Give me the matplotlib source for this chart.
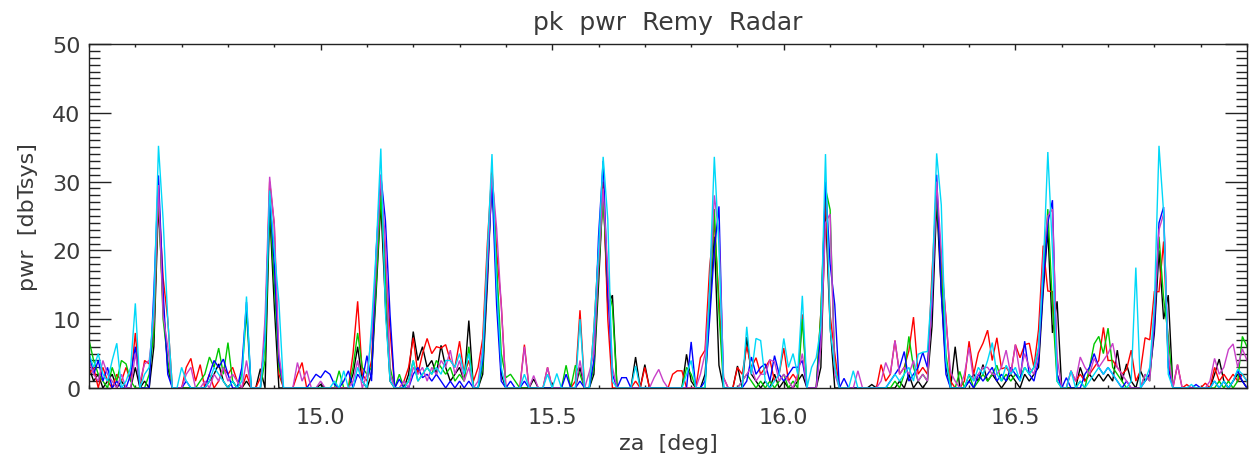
import numpy as np
import matplotlib
matplotlib.use("Agg")
import matplotlib.pyplot as plt
from matplotlib.ticker import MultipleLocator

# ---------------- data ----------------
ZA_START = 14.50      # deg, first sample
ZA_STEP = 0.01        # deg, sampling interval

pwr_black = [
    3, 1, 2, 0, 1, 2, 0, 1, 0, 0,
    3, 0, 1, 0, 6, 27, 12, 3, 0, 0,
    0, 0, 0, 0, 0, 0, 1, 2, 3.5, 1,
    0, 1, 0, 0, 1, 0, 0, 2.8, 0, 26,
    12, 0, 0, 0, 0, 0, 0, 0, 0, 0,
    0.5, 0, 0, 0, 0, 0, 0, 2, 6, 1,
    0, 2, 14, 27, 12, 1, 0, 0, 0, 2,
    8.2, 4, 6, 3, 4, 2, 6.2, 3, 1, 2,
    3, 1, 9.8, 0, 0, 2, 15, 31, 16, 2,
    0, 0, 0, 0, 0, 0, 1.3, 0, 0, 0,
    0, 0, 0, 0, 0, 0, 3, 0, 0, 2,
    15, 29, 12, 13.5, 0, 0, 0, 0, 4.5, 0,
    3.4, 0, 0, 0, 0, 0, 0, 0, 0, 4.9,
    1, 0, 0, 2, 11.3, 22, 3.3, 0, 0, 0,
    3.2, 0, 7.4, 2, 1, 0, 1, 0, 2, 0,
    1, 0, 0, 1, 2, 0, 0, 0, 3, 26,
    9, 0, 0, 0, 0, 0, 0, 0, 0, 0.5,
    0, 0, 0, 0, 0, 1, 0, 2, 0, 1,
    0, 1, 9, 27, 14, 3, 0, 6, 0, 0,
    1, 2, 1, 3.4, 1, 2, 1, 0, 1, 2,
    1, 0, 2, 1, 2, 3, 14, 23, 8, 12.6,
    0, 0, 0, 0, 3, 1, 2, 1, 2, 1,
    2, 1, 5.5, 1, 3.5, 1, 0, 2.5, 1, 2,
    8, 20, 10, 13.5, 0, 0, 0, 0, 0, 0,
    0, 0, 0, 2, 4.2, 1, 0, 1, 2, 1,
    0,
]

pwr_red = [
    2, 3, 0, 3, 1, 0, 2, 1, 3, 1,
    8, 0, 4, 3.5, 9, 28, 16, 10, 0, 0,
    0, 3, 4.3, 1, 3.4, 0, 2, 0, 1, 3,
    2, 3, 1, 0, 2, 0, 0, 1.5, 6, 30,
    23.8, 2, 0, 0, 0, 2, 3.7, 0, 0, 0,
    0, 0, 0, 0, 0, 0, 0, 5, 12.6, 2,
    1, 4, 17, 29, 18, 8.3, 0, 0, 1, 3,
    7.3, 2, 5, 7.2, 5, 6, 5.8, 6.3, 4, 3,
    6.8, 2, 4, 1, 3, 7.2, 21, 32, 20, 12.2,
    0, 0, 0, 0, 6.3, 0, 0, 0, 0, 3,
    0, 0, 0, 0, 0, 1, 11.3, 0, 0, 8.6,
    20, 30, 10, 0, 0, 0, 0, 0, 1, 0,
    3, 0, 0, 0, 0, 0, 2, 2.5, 2.5, 0,
    0, 0, 4.4, 5.5, 17.7, 24, 13, 1.5, 0, 0,
    3, 2, 6, 3, 4.4, 2, 3, 4.1, 1, 2,
    5.8, 1, 2, 1, 10.7, 0, 0, 0, 11, 28,
    10.6, 5, 0, 0, 0, 0, 0, 0, 0, 0,
    0, 3.4, 1, 2, 6.9, 2, 3, 5.4, 10.3, 2,
    3, 2, 16.8, 29, 18, 10.3, 1, 0, 0, 1,
    6.8, 2, 5.1, 6.5, 8.4, 4, 7.3, 2.8, 3, 2,
    6.3, 4.4, 6.3, 6.5, 3, 8.5, 20.7, 14.1, 14, 2,
    0, 0, 2.5, 1, 2, 1, 2, 3, 4, 8.8,
    4, 4, 3, 2, 2.7, 5.5, 1, 2.5, 7.3, 7,
    14, 14, 21.3, 4, 0, 3.4, 0, 0.5, 0, 0,
    0, 0.7, 0, 3, 1, 2, 1, 2, 1, 2,
    1,
]

pwr_green = [
    7, 4, 2, 1, 0, 3, 1, 4, 3.5, 1,
    0, 0, 0, 2, 8, 29, 10, 4, 0, 0,
    0, 0, 0, 0, 1, 2, 4.5, 3, 5.8, 2,
    6.6, 1, 0, 2, 11, 0, 0, 0, 4, 27,
    15, 3, 0, 0, 0, 0, 0, 0, 0, 0,
    0, 0, 0, 0, 2.5, 0, 0, 3, 8, 3,
    2, 3, 15, 28, 16, 3, 0, 2, 0, 1,
    4, 1, 2, 3, 2, 4, 3, 2, 3, 1,
    2, 1, 6, 0, 0, 3, 17, 31, 18, 5,
    1.5, 2, 1, 0, 0, 0, 0, 0, 0, 0,
    0, 0, 0, 3.3, 0, 3.3, 2, 0, 0, 3,
    17, 28, 15, 11.8, 0, 0, 0, 0, 0, 0,
    0, 0, 0, 0, 0, 0, 0, 0, 0, 3,
    2, 0, 0, 0, 12, 26, 11, 0, 0, 0,
    0, 1, 2, 1, 0, 1, 0, 1, 0, 1,
    2, 0, 1, 0, 10, 0, 0, 0, 11, 29,
    25.9, 3, 0, 0, 0, 0, 0, 0, 0, 0,
    0, 0, 0, 0, 1, 0, 2, 7.5, 3, 1,
    2, 1, 14.2, 28, 17, 5, 0, 0, 2.4, 0,
    2, 0, 1, 2, 1, 2, 3.3, 1, 2, 1,
    2, 1.5, 3, 2, 3, 5.5, 16, 26, 12, 1,
    0, 0, 0, 0, 1, 0, 3, 6.4, 7.5, 5,
    8.7, 3, 2, 1, 0, 0, 0, 0, 2, 1,
    10, 22, 13, 7.6, 0, 0, 0, 0, 0, 0,
    0, 0, 0, 0, 1, 0, 1, 0, 1, 7.5,
    6,
]

pwr_blue = [
    5, 2, 4, 1, 3, 0, 1, 0, 0, 2,
    6, 0, 0, 0, 14, 30.9, 14, 2, 0, 0,
    0, 1, 0, 0, 0, 0, 2, 4, 3, 4.2,
    2, 0, 0, 3, 12.5, 0, 0, 0, 8, 28,
    18, 4, 0, 0, 0, 0, 0, 0, 1, 2,
    1.5, 2.5, 2, 0.5, 0, 1, 2.5, 0, 2, 1,
    4.7, 1, 20, 31, 24.3, 10.6, 0, 1.3, 0, 0,
    2, 3, 1.5, 2, 1, 2, 1, 0, 1, 0,
    1, 0, 1, 0, 0, 4, 16.7, 30, 12, 1,
    0, 1, 0, 0, 1, 0, 0, 0, 0, 0,
    0, 0, 0, 2, 0, 0, 1, 0, 0, 4,
    22, 33, 14, 2, 0, 1.5, 1.5, 0, 0, 0,
    0, 0, 0, 0, 0, 0, 0, 0, 0, 0,
    6.7, 0, 0, 1, 10, 20, 26.4, 0, 0, 0,
    0, 0, 1, 4.5, 2, 3, 3.5, 1, 4.7, 2,
    1, 2, 3, 3, 4, 0, 0, 0, 8, 30,
    18, 12.1, 0, 1.4, 0, 0, 0, 0, 0, 0,
    0, 0, 0, 1, 2, 3, 5.3, 1, 2, 3,
    5.2, 3, 12, 31, 13.8, 2, 0, 0, 0, 0,
    1, 0, 2, 1, 2, 3, 1, 2, 1, 3,
    2, 1, 6.8, 2, 1, 4, 15, 24, 27.3, 2,
    0, 1.5, 0, 0, 0, 2, 3, 5, 3, 2,
    3, 2, 1, 0, 1, 0, 0, 0, 1, 2,
    9, 24, 26.3, 3, 0, 0, 0, 0, 0, 0.5,
    0, 0, 0, 1, 0, 1, 0, 1, 2.5, 1,
    0,
]

pwr_magenta = [
    4, 2, 1, 4, 2, 1, 0, 2, 0, 0,
    5, 1, 3.5, 4, 10, 29.5, 10.6, 6, 0, 0,
    0, 2, 3, 0, 0, 1, 0, 2, 1, 3,
    1, 2, 1, 0, 4, 0, 0, 0, 10, 30.7,
    23.8, 5, 0, 0, 0, 3.7, 1, 2.5, 0, 0,
    1, 0, 0, 0, 0, 0, 0, 1, 4, 0,
    2, 7.5, 18, 31, 21, 2, 0, 0, 1, 0,
    3, 2, 3, 1, 3, 2, 4, 3, 5.5, 2,
    4, 1, 3, 0, 1, 6, 18, 31, 23.2, 12,
    0, 0, 0, 0, 6, 0, 1.8, 0, 0, 3,
    0, 0, 0, 0, 0, 0, 4, 0, 2.3, 5,
    18, 29, 17, 3, 0, 0, 0, 0, 0, 0,
    0, 0, 1.5, 2.7, 1, 0, 0, 0, 0, 0,
    0, 0, 2, 5, 14, 28, 22.4, 1.5, 0, 0,
    0, 1, 2, 3, 1, 2, 2, 4.1, 3.8, 1,
    2, 1, 0, 2, 5, 0, 0, 0, 6, 24,
    25.3, 2, 0, 0, 0, 0, 2.5, 0, 0, 0,
    0, 1, 3.7, 2, 6.9, 2, 3, 2, 4, 1,
    2, 1, 13, 30, 20, 9.8, 2.3, 1, 0, 2,
    5.9, 1, 2, 3, 3, 2, 2, 3, 5.5, 2,
    6.3, 2, 5, 3, 2, 5, 19.3, 25, 26, 4.5,
    0, 0, 2.5, 1, 4.5, 3, 2, 4.3, 3, 4,
    5, 6.5, 3, 2, 1, 0, 0, 0, 2, 1,
    11, 23, 25.3, 5, 0, 3.4, 0, 0, 0, 0,
    0, 0, 1, 4.3, 2, 3, 5.6, 6.4, 3, 5.7,
    4,
]

pwr_cyan = [
    5, 3, 5, 2, 1, 4, 6.5, 0, 1, 3,
    12.3, 0, 2, 3, 12, 35.2, 24.5, 10, 0, 0,
    3, 1, 0, 0, 0, 0, 1, 3, 2, 1,
    0, 1, 0, 1, 13.3, 0, 0, 0, 7, 28.7,
    20, 12.5, 0, 0, 0, 0, 0, 0, 0, 0,
    0, 0, 0, 1, 0, 2.5, 0, 0, 3, 1,
    0, 9.2, 20, 34.8, 11, 1, 0, 0, 0, 1,
    4, 1, 2, 3, 2, 3, 2, 4, 4, 3,
    5, 2, 5, 0, 0, 5, 19.7, 34, 15, 3,
    0, 0, 0, 0, 2, 0, 0, 0, 0, 2,
    0, 2.1, 0, 0, 0, 0, 10, 0, 0, 8.6,
    20, 33.6, 24.5, 1, 0, 0, 0, 0, 3.2, 0,
    0, 0, 0, 0, 0, 0, 0, 0, 0, 2,
    4, 0, 0, 0, 15, 33.6, 20.5, 0, 0, 0,
    0, 0, 8.9, 2, 7.2, 6.9, 1, 0, 1, 2,
    7.2, 3, 5, 2, 13.4, 0, 3, 4.4, 9, 34,
    8.6, 3, 0, 0, 0, 2.5, 0, 0, 0, 0,
    0, 0, 0, 1, 2, 1, 2, 3, 1, 4.9,
    5.2, 5.3, 15, 34.1, 26.6, 4, 0, 0, 0, 0,
    2, 1, 3, 2, 4, 6.6, 2, 1, 3.3, 2,
    3, 1, 3, 2, 3, 6, 17, 34.3, 20, 1,
    0, 0, 2.5, 0, 1, 0, 1, 2, 3, 2,
    3, 2, 1, 0, 0, 1, 17.5, 0, 1, 3,
    12, 35.2, 25.5, 2, 0, 0, 0, 0, 0.5, 0,
    0, 0, 0, 1, 0, 1, 0, 1, 2.7, 2,
    1,
]

series = [
    (pwr_black, "#000000"),
    (pwr_red, "#ff0000"),
    (pwr_green, "#00c800"),
    (pwr_blue, "#0000ff"),
    (pwr_magenta, "#c840c8"),
    (pwr_cyan, "#00d8f8"),
]

TITLE = "pk  pwr  Remy  Radar"
XLABEL = "za  [deg]"
YLABEL = "pwr  [dbTsys]"
XLIM = (14.5, 17.0)
YLIM = (0, 50)

# ---------------- plot ----------------
TXT = "#3a3a3a"
fig = plt.figure(figsize=(12.53, 4.64), dpi=100)
ax = fig.add_axes([89 / 1253, 75 / 464, (1247 - 89) / 1253, (389 - 45) / 464])

for vals, col in series:
    v = np.asarray(vals, dtype=float)
    za = ZA_START + ZA_STEP * np.arange(len(v))
    ax.plot(za, v, color=col, lw=1.0, solid_joinstyle="miter")

ax.set_xlim(*XLIM)
ax.set_ylim(*YLIM)

ax.xaxis.set_major_locator(MultipleLocator(0.5))
ax.xaxis.set_minor_locator(MultipleLocator(0.1))
ax.yaxis.set_major_locator(MultipleLocator(10))
ax.yaxis.set_minor_locator(MultipleLocator(1))
ax.set_xticks([15.0, 15.5, 16.0, 16.5])
ax.set_xticklabels(["15.0", "15.5", "16.0", "16.5"])

ax.tick_params(axis="both", which="both", direction="in", color="#222222",
               labelcolor=TXT, labelsize=16, width=1.0)
ax.tick_params(axis="y", which="major", length=16, left=True, right=True, pad=6)
ax.tick_params(axis="y", which="minor", length=8, left=True, right=True)
ax.tick_params(axis="x", which="major", length=4, top=True, bottom=True, pad=14)
ax.tick_params(axis="x", which="minor", length=2.5, top=True, bottom=True)

for sp in ax.spines.values():
    sp.set_color("#222222")
    sp.set_linewidth(1.0)
    sp.set_zorder(5)

ax.set_title(TITLE, fontsize=18, color=TXT, pad=11)
ax.set_xlabel(XLABEL, fontsize=16, color=TXT, labelpad=4)
ax.set_ylabel(YLABEL, fontsize=16, color=TXT, labelpad=10)

fig.savefig("out.png", dpi=100)
